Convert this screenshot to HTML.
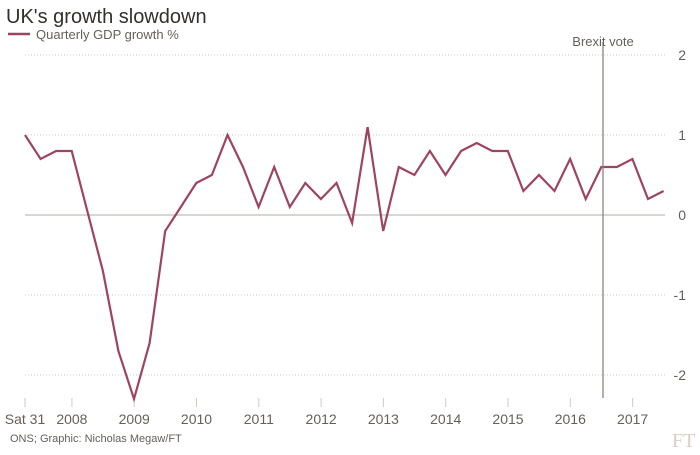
<!DOCTYPE html>
<html><head><meta charset="utf-8"><style>
body{margin:0;background:#fff;font-family:"Liberation Sans",sans-serif;}
svg text{font-family:"Liberation Sans",sans-serif;}
svg text.serif{font-family:"Liberation Serif",serif;}
</style></head><body>
<svg width="700" height="450">
<text x="6" y="23" font-size="20" fill="#33302e">UK's growth slowdown</text>
<line x1="8" y1="34" x2="30" y2="34" stroke="#9e4460" stroke-width="2.5"/>
<text x="36" y="39" font-size="13" fill="#66605c">Quarterly GDP growth %</text>
<g id="grid"></g><g id="xaxis"></g>
<path id="line" fill="none" stroke="#9e4460" stroke-width="2.2" stroke-linejoin="miter"/>
<line x1="603" y1="42" x2="603" y2="398" stroke="#8a8580" stroke-width="1.3"/>
<text x="603" y="46" font-size="13" fill="#66605c" text-anchor="middle">Brexit vote</text>
<text x="10" y="442" font-size="11" fill="#66605c">ONS; Graphic: Nicholas Megaw/FT</text>
<text class="serif" x="672" y="447" font-size="20" fill="#d9cfc4">FT</text>
</svg>
<script>
const values=[1.0,0.7,0.8,0.8,0.05,-0.7,-1.7,-2.3,-1.6,-0.2,0.1,0.4,0.5,1.0,0.6,0.1,0.6,0.1,0.4,0.2,0.4,-0.1,1.1,-0.2,0.6,0.5,0.8,0.5,0.8,0.9,0.8,0.8,0.3,0.5,0.3,0.7,0.2,0.6,0.6,0.7,0.2,0.3];
const yTicks=[2,1,0,-1,-2];
const xTickLabels=["Sat 31","2008","2009","2010","2011","2012","2013","2014","2015","2016","2017"];
const xTickPos=[2007.247,2008,2009,2010,2011,2012,2013,2014,2015,2016,2017];
const startT=2007.247;
const NS="http://www.w3.org/2000/svg";
const xs=t=>25+(t-startT)*62.3;
const ys=v=>215-v*80;
const grid=document.getElementById('grid');
yTicks.forEach(v=>{
 const l=document.createElementNS(NS,'line');
 l.setAttribute('x1',25);l.setAttribute('x2',665);l.setAttribute('y1',ys(v));l.setAttribute('y2',ys(v));
 if(v===0){l.setAttribute('stroke','#c5cbc0');l.setAttribute('stroke-width','1.5');}
 else{l.setAttribute('stroke','#cfc9c2');l.setAttribute('stroke-dasharray','1,2');}
 
 
 grid.appendChild(l);
 const t=document.createElementNS(NS,'text');
 t.setAttribute('x',686);t.setAttribute('y',ys(v)+5);t.setAttribute('font-size','14');t.setAttribute('fill','#66605c');t.setAttribute('text-anchor','end');
 t.textContent=v;
 
 
 grid.appendChild(t);
});
const xa=document.getElementById('xaxis');
xTickLabels.forEach((lab,i)=>{
 const x=xs(xTickPos[i]);
 const l=document.createElementNS(NS,'line');
 l.setAttribute('x1',x);l.setAttribute('x2',x);l.setAttribute('y1',398);l.setAttribute('y2',407);l.setAttribute('stroke','#cfc9c2');
 
 
 xa.appendChild(l);
 const t=document.createElementNS(NS,'text');
 t.setAttribute('x',x);t.setAttribute('y',424);t.setAttribute('font-size','14');t.setAttribute('fill','#66605c');t.setAttribute('text-anchor','middle');
 t.textContent=lab;
 
 
 xa.appendChild(t);
});
document.getElementById('line').setAttribute('d',values.map((v,i)=>(i?'L':'M')+xs(startT+i*0.25).toFixed(1)+','+ys(v).toFixed(1)).join(''));
</script>
</body></html>
